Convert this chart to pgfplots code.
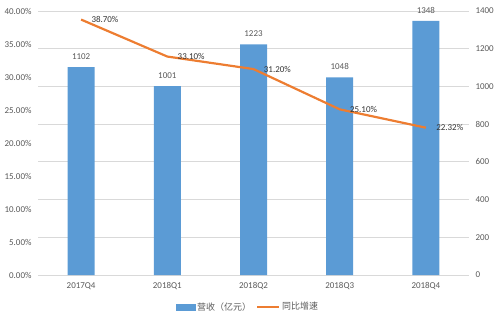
\documentclass[border=0pt]{standalone}
\usepackage{pgfplots}
\pgfplotsset{compat=1.18}
\usepackage{fontspec}
\setmainfont{Carlito}
\newfontfamily\cjk{Noto Sans CJK SC}
\definecolor{barblue}{HTML}{5B9BD5}
\definecolor{lineor}{HTML}{ED7D31}
\definecolor{gridc}{HTML}{D9D9D9}
\definecolor{txt}{HTML}{595959}
\begin{document}
\begin{tikzpicture}[x=1bp,y=1bp]
\useasboundingbox (0,0) rectangle (495,322);
\begin{axis}[
  at={(38bp,47bp)}, anchor=south west,
  scale only axis, width=431bp, height=264bp,
  xmin=-0.5, xmax=4.5, ymin=0, ymax=1400,
  ytick={0,200,...,1400},
  xtick={0,1,2,3,4},
  xticklabels={2017Q4,2018Q1,2018Q2,2018Q3,2018Q4},
  axis x line*=bottom, axis y line*=right,
  x axis line style={draw=gridc, line width=0.75pt},
  y axis line style={draw=none},
  ymajorgrids, grid style={draw=gridc, line width=0.75pt},
  major tick length=0pt,
  tick label style={font=\fontsize{9}{10}\selectfont, text=txt},
  yticklabel style={xshift=3bp},
  xticklabel style={yshift=-4bp},
  /pgf/number format/assume math mode=true,
  /pgf/number format/1000 sep={},
  scaled y ticks=false,
  yticklabel={\pgfmathprintnumber[fixed,precision=0]{\tick}},
]
\addplot[ybar, bar width=27bp, fill=barblue, draw=none,
  nodes near coords,
  every node near coord/.append style={font=\fontsize{9}{10}\selectfont, text=txt, yshift=4bp},
  point meta=explicit symbolic]
  coordinates {(0,1102)[1102] (1,1001)[1001] (2,1223)[1223] (3,1048)[1048] (4,1348)[1348]};
\end{axis}
\begin{axis}[
  at={(38bp,47bp)}, anchor=south west,
  scale only axis, width=431bp, height=264bp,
  xmin=-0.5, xmax=4.5, ymin=0, ymax=40,
  ytick={0,5,...,40},
  hide x axis,
  axis y line*=left,
  y axis line style={draw=none},
  major tick length=0pt,
  tick label style={font=\fontsize{9}{10}\selectfont, text=txt},
  yticklabel style={xshift=-3bp},
  /pgf/number format/assume math mode=true,
  yticklabel={\pgfmathprintnumber[fixed,fixed zerofill,precision=2]{\tick}\%},
  legend style={at={(0.487,-0.121)}, anchor=center, draw=none, fill=none,
    font=\cjk\fontsize{9}{10}\selectfont, text=txt,
    legend columns=2, /tikz/every even column/.append style={column sep=3bp},
    inner sep=0pt},
]
\addlegendimage{legend image code/.code={\fill[barblue] (0bp,-3bp) rectangle (19bp,3bp);}}
\addlegendentry{营收（亿元）}
\addplot[color=lineor, line width=2.2pt, mark=none,
  nodes near coords={\pgfmathprintnumber[fixed,fixed zerofill,precision=2]{\pgfplotspointmeta}\%},
  every node near coord/.append style={font=\fontsize{9}{10}\selectfont, text=black!80, anchor=west, xshift=6bp, yshift=0bp},
  legend image code/.code={\draw[lineor, line width=2.2pt] (0bp,0bp) -- (22bp,0bp);}]
  coordinates {(0,38.70) (1,33.10) (2,31.20) (3,25.10) (4,22.32)};
\addlegendentry{同比增速}
\end{axis}
\end{tikzpicture}
\end{document}
